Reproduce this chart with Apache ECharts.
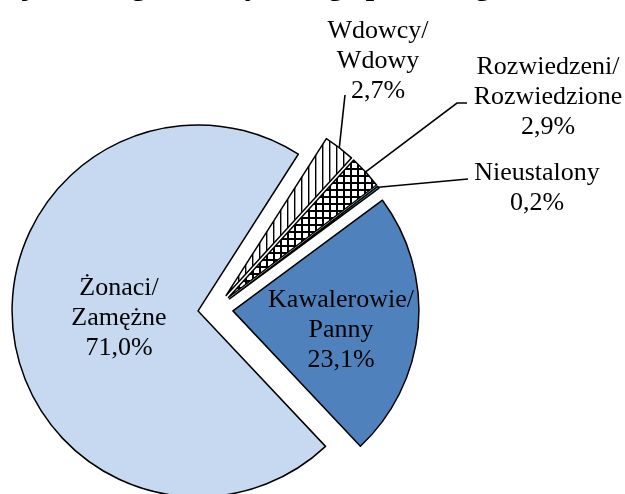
<!DOCTYPE html>
<html lang="pl">
<head>
    <meta charset="UTF-8">
    <title>Stan cywilny</title>
    <script src="https://cdn.jsdelivr.net/npm/echarts@6/dist/echarts.min.js"></script>
    <style>
        html, body { margin: 0; padding: 0; background: #fff; }
        #chart { width: 625px; height: 494px; }
    </style>
</head>
<body>
    <div id="chart"></div>
    <script>
        // dane
        const names = ['Kawalerowie/Panny', 'Żonaci/Zamężne', 'Wdowcy/Wdowy', 'Rozwiedzeni/Rozwiedzione', 'Nieustalony'];
        const values = [23.1, 71.0, 2.7, 2.9, 0.2];

        // pozycje etykiet (środek bloku tekstu) i końce linii odniesienia
        const labelPos = [[341, 330], [119, 318], [378, 61], [548, 97], [537, 188]];
        const leaderEnds = [null, null, [[345, 95], [345, 95]], [[457, 103], [467, 103]], [[468, 179], [468, 179]]];

        const CENTER = [215.5, 309.3];
        const RADIUS = 186;
        const START = 36.5;
        const EXPLODE = 17.5;

        function stripes() {
            const c = document.createElement('canvas');
            c.width = 7; c.height = 7;
            const ctx = c.getContext('2d');
            ctx.fillStyle = '#fff';
            ctx.fillRect(0, 0, 7, 7);
            ctx.fillStyle = '#000';
            ctx.fillRect(0, 0, 1.4, 7);
            return c;
        }
        function grid() {
            const c = document.createElement('canvas');
            c.width = 7; c.height = 7;
            const ctx = c.getContext('2d');
            ctx.fillStyle = '#fff';
            ctx.fillRect(0, 0, 7, 7);
            ctx.fillStyle = '#000';
            ctx.fillRect(0, 0, 7, 2);
            ctx.fillRect(0, 0, 2, 7);
            return c;
        }

        const fills = [
            '#4F81BD',
            '#C6D9F1',
            { image: stripes(), repeat: 'repeat' },
            { image: grid(), repeat: 'repeat' },
            '#4BACC6'
        ];

        const total = values.reduce((a, b) => a + b, 0);
        let cum = 0;
        const mids = values.map(v => {
            const m = START - 360 * (cum + v / 2) / total;
            cum += v;
            return m * Math.PI / 180;
        });
        const centers = mids.map(m => [CENTER[0] + EXPLODE * Math.cos(m), CENTER[1] - EXPLODE * Math.sin(m)]);

        // wycinki "wysunięte" - osobna seria dla każdego wycinka
        const series = names.map((n, k) => ({
            type: 'pie',
            center: centers[k],
            radius: RADIUS,
            startAngle: START,
            clockwise: true,
            avoidLabelOverlap: false,
            emphasis: { disabled: true },
            silent: true,
            label: {
                fontFamily: 'Liberation Serif',
                fontSize: 26,
                lineHeight: 30,
                color: '#000',
                formatter: p => p.name.replace('/', '/\n') + '\n' + p.value.toFixed(1).replace('.', ',') + '%'
            },
            labelLine: { lineStyle: { color: '#000', width: 1.6 }, length: 20, length2: 10 },
            labelLayout: params => {
                if (params.dataIndex !== k) return {};
                const pos = labelPos[k];
                const out = { x: pos[0], y: pos[1], align: 'center', verticalAlign: 'middle' };
                if (leaderEnds[k]) {
                    const c = centers[k];
                    const arc = [c[0] + RADIUS * Math.cos(mids[k]), c[1] - RADIUS * Math.sin(mids[k])];
                    out.labelLinePoints = [arc].concat(leaderEnds[k]);
                }
                return out;
            },
            data: names.map((name, i) => i === k ? {
                name: name,
                value: values[i],
                itemStyle: { color: fills[i], borderColor: '#000', borderWidth: 1.5 },
                label: { show: true, position: i < 2 ? 'inside' : 'outside' },
                labelLine: { show: i >= 2 }
            } : {
                name: name,
                value: values[i],
                itemStyle: { color: 'rgba(0,0,0,0)', borderWidth: 0 },
                label: { show: false },
                labelLine: { show: false }
            })
        }));

        const chart = echarts.init(document.getElementById('chart'));

        chart.setOption({
            animation: false,
            title: {
                text: 'Populacja według stanu cywilnego płci w regionie',
                left: -81,
                top: -28,
                padding: 0,
                textStyle: { fontFamily: 'Liberation Serif', fontWeight: 'bold', fontSize: 30, color: '#000' }
            },
            series: series
        });
    </script>
</body>
</html>
